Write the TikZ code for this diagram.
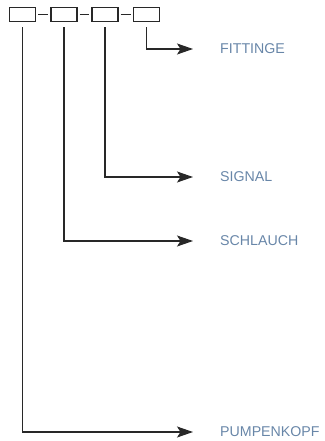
\documentclass[tikz,border=0pt]{standalone}
\usepackage{fontspec}
\setmainfont{Liberation Sans}
\usetikzlibrary{arrows.meta,positioning}

\definecolor{labelblue}{RGB}{104,134,168}
\definecolor{linegray}{RGB}{40,40,40}

\tikzset{
  codebox/.style={draw=linegray, line width=1.2pt, minimum width=26pt, minimum height=14pt, inner sep=0pt},
  dash line/.style={draw=linegray, line width=1.2pt, shorten <=2pt, shorten >=2pt},
  conn/.style={draw=linegray, line width=1.2pt, -{Stealth[length=16pt,width=11pt,inset=3.5pt]}, shorten >=27pt},
  partlabel/.style={text=labelblue, font=\fontsize{14.2pt}{16pt}\selectfont, anchor=west, inner sep=0pt}
}

\begin{document}
\begin{tikzpicture}[x=1pt,y=-1pt]
  \useasboundingbox (0,0) rectangle (324,441);

  % Kästchen oben
  \node[codebox] (b1) at (22.5,14.5) {};
  \node[codebox] (b2) at (64,14.5) {};
  \node[codebox] (b3) at (105,14.5) {};
  \node[codebox] (b4) at (146.5,14.5) {};
  \draw[dash line] (b1) -- (b2);
  \draw[dash line] (b2) -- (b3);
  \draw[dash line] (b3) -- (b4);

  % Beschriftungen
  \node[partlabel] (fit) at (220,49) {FITTINGE};
  \node[partlabel] (sig) at (220,177) {SIGNAL};
  \node[partlabel] (sch) at (220,241) {SCHLAUCH};
  \node[partlabel] (pk) at (220,432) {PUMPENKOPF};

  % Verbindungen
  \draw[conn] ([yshift=-5pt]b4.south) |- (fit.west);
  \draw[conn] ([yshift=-5pt]b3.south) |- (sig.west);
  \draw[conn] ([yshift=-5pt]b2.south) |- (sch.west);
  \draw[conn] ([yshift=-5pt]b1.south) |- (pk.west);
\end{tikzpicture}
\end{document}
